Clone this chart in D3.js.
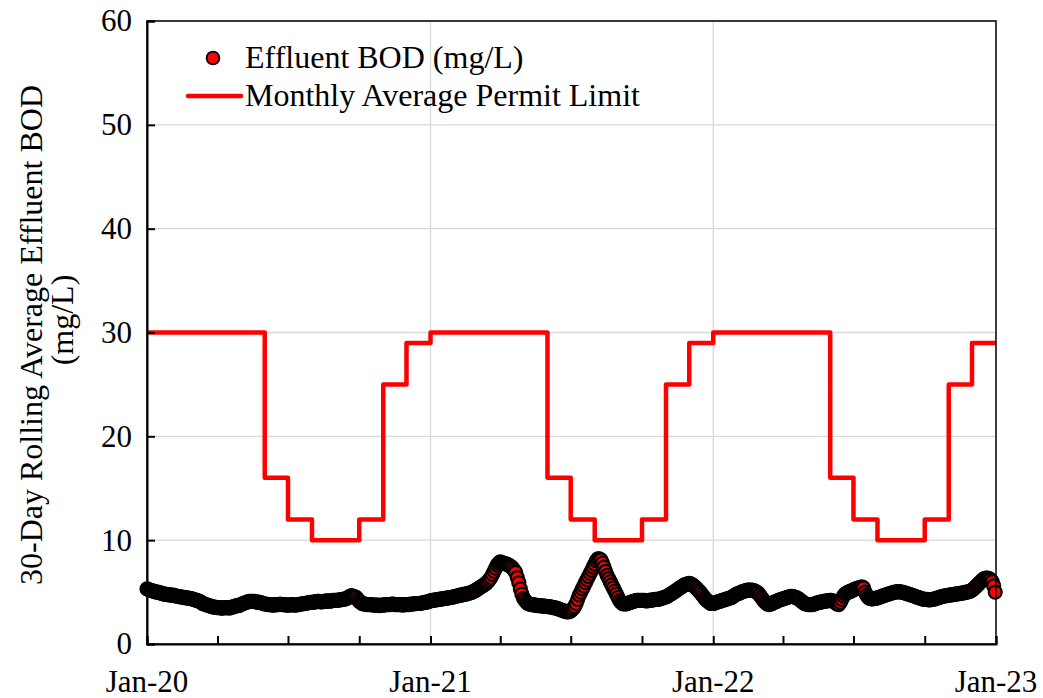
<!DOCTYPE html>
<html>
<head>
<meta charset="utf-8">
<script src="https://cdn.jsdelivr.net/npm/d3@7"></script>
<style>
  body { margin: 0; background: #fff; }
  svg text { font-family: "Liberation Serif", "Times New Roman", serif; fill: #000; }
</style>
</head>
<body>
<div id="chart"></div>
<script>
// 30-day rolling average effluent BOD, one reading every 2 days from Jan 1 of each year
const bod2020 = [
  5.3,5.25,5.2,5.15,5.1,5.05,5.0,5.0,4.95,4.9,4.85,4.8,4.8,4.75,4.75,4.7,
  4.7,4.7,4.65,4.6,4.6,4.55,4.55,4.5,4.5,4.45,4.45,4.4,4.4,4.35,
  4.3,4.25,4.2,4.15,4.1,4.0,3.9,3.85,3.8,3.75,3.7,3.65,3.6,3.55,3.55,3.5,
  3.5,3.5,3.45,3.45,3.5,3.5,3.5,3.45,3.5,3.55,3.6,3.65,3.7,3.7,3.75,
  3.85,3.9,3.95,4.0,4.05,4.1,4.1,4.1,4.1,4.05,4.05,4.0,4.0,3.95,3.9,
  3.85,3.85,3.8,3.8,3.8,3.75,3.75,3.8,3.8,3.8,3.85,3.8,3.8,3.8,3.75,
  3.75,3.75,3.8,3.8,3.75,3.75,3.8,3.8,3.85,3.85,3.9,3.9,3.95,3.95,4.0,4.0,
  4.0,4.05,4.05,4.1,4.1,4.05,4.05,4.1,4.1,4.15,4.15,4.1,4.15,4.2,4.2,
  4.2,4.2,4.25,4.25,4.3,4.3,4.35,4.4,4.5,4.6,4.65,4.6,4.55,4.5,4.3,
  4.1,4.0,3.9,3.85,3.85,3.8,3.8,3.8,3.8,3.75,3.75,3.75,3.75,3.7,3.75,3.75,
  3.75,3.8,3.8,3.8,3.8,3.85,3.85,3.8,3.8,3.8,3.8,3.8,3.75,3.8,3.8,
  3.8,3.8,3.85,3.85,3.85,3.9,3.9,3.9,3.9,3.95,3.95,4.0,4.0,4.05,4.1
];
const bod2021 = [
  4.15,4.2,4.2,4.25,4.25,4.3,4.3,4.35,4.35,4.4,4.4,4.45,4.45,4.5,4.5,4.55,
  4.6,4.6,4.65,4.7,4.7,4.75,4.8,4.8,4.85,4.9,4.95,5.0,5.1,5.15,
  5.25,5.35,5.45,5.55,5.65,5.75,5.85,6.0,6.2,6.4,6.7,7.0,7.3,7.6,7.8,7.9,
  7.85,7.8,7.75,7.7,7.65,7.55,7.45,7.3,7.1,6.9,6.4,5.9,5.3,4.8,4.4,
  4.2,4.0,3.9,3.85,3.8,3.8,3.75,3.75,3.7,3.7,3.7,3.65,3.65,3.65,3.6,
  3.6,3.6,3.55,3.5,3.5,3.45,3.4,3.35,3.3,3.25,3.2,3.15,3.1,3.1,3.15,
  3.25,3.4,3.6,3.9,4.3,4.7,5.0,5.3,5.6,5.9,6.2,6.5,6.8,7.1,7.4,7.7,
  8.0,8.2,8.2,8.1,7.8,7.4,7.0,6.6,6.3,6.0,5.7,5.4,5.1,4.8,4.5,
  4.2,4.0,3.9,3.85,3.85,3.9,3.95,4.0,4.05,4.1,4.15,4.2,4.2,4.2,4.2,
  4.2,4.2,4.15,4.15,4.2,4.2,4.25,4.25,4.3,4.3,4.3,4.35,4.4,4.45,4.5,4.55,
  4.6,4.7,4.8,4.9,5.0,5.1,5.2,5.3,5.4,5.5,5.6,5.7,5.75,5.8,5.85,
  5.8,5.7,5.6,5.45,5.3,5.15,5.0,4.8,4.6,4.4,4.25,4.1,4.0,3.9,3.9
];
const bod2022 = [
  3.9,3.95,4.0,4.05,4.1,4.15,4.2,4.25,4.3,4.35,4.4,4.45,4.5,4.6,4.7,4.8,
  4.85,4.9,5.0,5.05,5.1,5.15,5.2,5.2,5.2,5.2,5.15,5.1,5.0,4.9,
  4.7,4.5,4.3,4.1,3.95,3.85,3.8,3.85,3.9,4.0,4.05,4.1,4.2,4.25,4.3,4.35,
  4.4,4.45,4.5,4.55,4.6,4.6,4.55,4.5,4.45,4.35,4.25,4.1,4.0,3.9,3.85,
  3.8,3.8,3.8,3.8,3.85,3.9,3.95,4.0,4.0,4.05,4.1,4.1,4.15,4.15,4.2,
  4.2,4.15,4.05,3.95,3.85,3.8,4.0,4.3,4.6,4.8,4.9,5.0,5.05,5.1,5.2,
  5.25,5.3,5.35,5.4,5.45,5.5,5.4,5.0,4.7,4.5,4.4,4.35,4.35,4.4,4.4,4.45,
  4.5,4.55,4.6,4.65,4.7,4.75,4.8,4.85,4.9,4.95,5.0,5.0,5.05,5.05,5.0,
  5.0,4.95,4.9,4.85,4.8,4.75,4.7,4.65,4.6,4.55,4.5,4.45,4.4,4.35,4.3,
  4.3,4.3,4.25,4.25,4.3,4.3,4.35,4.4,4.45,4.5,4.55,4.6,4.6,4.65,4.65,4.7,
  4.7,4.75,4.75,4.8,4.8,4.85,4.85,4.9,4.9,4.95,5.0,5.0,5.05,5.1,5.2,
  5.3,5.45,5.6,5.75,5.9,6.05,6.2,6.3,6.35,6.35,6.3,6.2,6.0,5.6,5.0
];
const bodYears = [2020, 2021, 2022];

// monthly average permit limit, Jan 2020 .. Dec 2022
const permitLimit = [
  30,30,30,30,30,16,12,10,10,12,25,29,
  30,30,30,30,30,16,12,10,10,12,25,29,
  30,30,30,30,30,16,12,10,10,12,25,29
];

const yTicks = [0, 10, 20, 30, 40, 50, 60];
const xTickLabels = ["Jan-20", "Jan-21", "Jan-22", "Jan-23"];

const W = 1043, H = 698;
const pLeft = 147, pRight = 996, pTop = 21, pBottom = 644;

const svg = d3.select("#chart").append("svg")
  .attr("width", W).attr("height", H);

const x = d3.scaleTime()
  .domain([new Date(2020, 0, 1), new Date(2023, 0, 1)])
  .range([pLeft, pRight]);
const y = d3.scaleLinear().domain([0, 60]).range([pBottom, pTop]);

// build point lists
const bod = [];
bodYears.forEach((yr, k) => {
  const vals = [bod2020, bod2021, bod2022][k];
  vals.forEach((v, i) => bod.push({date: d3.timeDay.offset(new Date(yr, 0, 1), 2 * i), v: v}));
});

const limit = permitLimit.map((v, i) => ({date: new Date(2020, i, 1), v: v}));
limit.push({date: new Date(2023, 0, 1), v: permitLimit[permitLimit.length - 1]});

// gridlines
svg.append("g")
  .selectAll("line")
  .data(yTicks.slice(1))
  .enter().append("line")
  .attr("x1", pLeft).attr("x2", pRight)
  .attr("y1", d => y(d)).attr("y2", d => y(d))
  .attr("stroke", "#d9d9d9").attr("stroke-width", 1.3);

const yearTicks = d3.timeYear.range(new Date(2020, 0, 1), new Date(2023, 0, 2));
svg.append("g")
  .selectAll("line")
  .data(yearTicks.slice(1, -1))
  .enter().append("line")
  .attr("x1", d => x(d)).attr("x2", d => x(d))
  .attr("y1", pTop).attr("y2", pBottom)
  .attr("stroke", "#d9d9d9").attr("stroke-width", 1.3);

// permit limit
svg.append("path")
  .datum(limit)
  .attr("fill", "none")
  .attr("stroke", "#ff0000")
  .attr("stroke-width", 4.5)
  .attr("stroke-linejoin", "round")
  .attr("d", d3.line().x(d => x(d.date)).y(d => y(d.v)).curve(d3.curveStepAfter));

// effluent BOD markers
svg.append("g")
  .selectAll("circle")
  .data(bod)
  .enter().append("circle")
  .attr("cx", d => x(d.date))
  .attr("cy", d => y(d.v))
  .attr("r", 6.5)
  .attr("fill", "#ff0000")
  .attr("stroke", "#000")
  .attr("stroke-width", 2.2);

// frame
svg.append("rect")
  .attr("x", pLeft).attr("y", pTop)
  .attr("width", pRight - pLeft).attr("height", pBottom - pTop)
  .attr("fill", "none").attr("stroke", "#000").attr("stroke-width", 1.5);

// axes
const yAxis = d3.axisLeft(y).tickValues(yTicks).tickSize(-8).tickPadding(15);
const gy = svg.append("g").attr("transform", `translate(${pLeft},0)`).call(yAxis);
gy.select(".domain").attr("stroke-width", 2);
gy.selectAll(".tick line").attr("stroke-width", 2);
gy.selectAll("text").style("font-size", "31px").attr("fill", "#000")
  .style("font-family", '"Liberation Serif", serif');

const quarterTicks = d3.timeMonth.every(3).range(new Date(2020, 0, 1), new Date(2023, 0, 2));
const xAxis = d3.axisBottom(x).tickValues(quarterTicks).tickSize(-8)
  .tickFormat(() => "");
const gx = svg.append("g").attr("transform", `translate(0,${pBottom})`).call(xAxis);
gx.select(".domain").attr("stroke-width", 2);
gx.selectAll(".tick line").attr("stroke-width", 2);

svg.append("g")
  .selectAll("text")
  .data(yearTicks)
  .enter().append("text")
  .attr("x", d => x(d))
  .attr("y", 692)
  .attr("text-anchor", "middle")
  .style("font-size", "31px")
  .text((d, i) => xTickLabels[i]);

// y title
svg.append("text")
  .attr("transform", "translate(42,335) rotate(-90)")
  .attr("text-anchor", "middle")
  .style("font-size", "32px")
  .text("30-Day Rolling Average Effluent BOD");
svg.append("text")
  .attr("transform", "translate(73,320) rotate(-90)")
  .attr("text-anchor", "middle")
  .style("font-size", "32px")
  .text("(mg/L)");

// legend
const lg = svg.append("g");
lg.append("circle").attr("cx", 213).attr("cy", 58).attr("r", 6.4)
  .attr("fill", "#ff0000").attr("stroke", "#000").attr("stroke-width", 1.8);
lg.append("text").attr("x", 245).attr("y", 68).style("font-size", "32px").text("Effluent BOD (mg/L)");
lg.append("line").attr("x1", 188).attr("x2", 241).attr("y1", 96).attr("y2", 96)
  .attr("stroke", "#ff0000").attr("stroke-width", 4.5).attr("stroke-linecap", "round");
lg.append("text").attr("x", 245).attr("y", 106).style("font-size", "32px").text("Monthly Average Permit Limit");
</script>
</body>
</html>
